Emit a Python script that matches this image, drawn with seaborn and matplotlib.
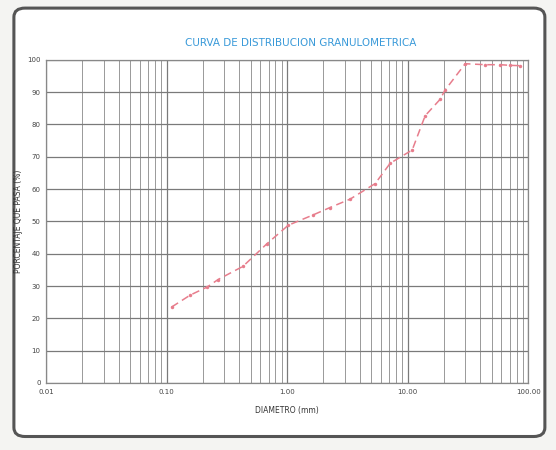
import numpy as np
import pandas as pd
import seaborn as sns
import matplotlib.pyplot as plt
from matplotlib.ticker import FixedLocator, LogLocator, NullFormatter
from matplotlib.patches import FancyBboxPatch

# Curva granulometrica
diametro = [0.11, 0.157, 0.217, 0.267, 0.43, 0.68, 1.02, 1.64, 2.27, 3.33,
            5.37, 7.16, 10.9, 13.96, 18.6, 20.4, 30.0, 44.0, 58.6, 70.6, 86.0]
pasa = [23.5, 27.2, 29.7, 32.0, 36.1, 43.1, 48.8, 52.0, 54.3, 56.9,
        61.7, 68.0, 72.1, 82.7, 87.8, 90.6, 98.8, 98.5, 98.5, 98.3, 98.2]

x_ticks = [0.01, 0.1, 1, 10, 100]
x_tick_labels = ['0.01', '0.10', '1.00', '10.00', '100.00']
y_ticks = list(range(0, 101, 10))

df = pd.DataFrame({'diametro': diametro, 'pasa': pasa})

sns.set_style('whitegrid')
plt.rcParams['font.family'] = ['DejaVu Sans']

fig = plt.figure(figsize=(5.56, 4.5), dpi=100)
fig.patch.set_facecolor('#f4f4f2')
# marco redondeado de la tarjeta
frame = FancyBboxPatch((0.025, 0.03), 0.955, 0.952, boxstyle='round,pad=0,rounding_size=0.02',
                       transform=fig.transFigure, facecolor='white', edgecolor='#555555',
                       linewidth=2.2, zorder=-5)
fig.patches.append(frame)

ax = fig.add_axes([0.083, 0.149, 0.867, 0.718])
ax.set_zorder(2)
ax.set_facecolor('white')

sns.lineplot(x='diametro', y='pasa', data=df, ax=ax, color='#e77d8c', linewidth=1.1,
             linestyle=(0, (5, 3)), marker='o', markersize=2.5, markeredgewidth=0, zorder=3)

ax.set_xscale('log')
ax.set_xlim(0.01, 100)
ax.set_ylim(0, 100)
ax.xaxis.set_major_locator(FixedLocator(x_ticks))
ax.set_xticklabels(x_tick_labels)
ax.xaxis.set_minor_locator(LogLocator(base=10, subs=np.arange(2, 10)))
ax.xaxis.set_minor_formatter(NullFormatter())
ax.set_yticks(y_ticks)

ax.grid(which='major', axis='both', color='#7a7a7a', linewidth=0.9)
ax.grid(which='minor', axis='x', color='#999999', linewidth=0.7)
for s in ax.spines.values():
    s.set_color('#888888')
    s.set_linewidth(0.9)
ax.tick_params(axis='both', which='both', length=0, labelsize=5, colors='#444444', pad=4)

ax.set_xlabel('DIAMETRO (mm)', fontsize=5.5, color='#333333', labelpad=8)
ax.set_ylabel('PORCENTAJE QUE PASA (%)', fontsize=5.5, color='#333333')
ax.yaxis.set_label_coords(-0.047, 0.5)
fig.text(0.54, 0.905, 'CURVA DE DISTRIBUCION GRANULOMETRICA', ha='center', va='center',
         fontsize=7.5, color='#3a9ad9')

fig.savefig('out.png', dpi=100, facecolor=fig.get_facecolor())
